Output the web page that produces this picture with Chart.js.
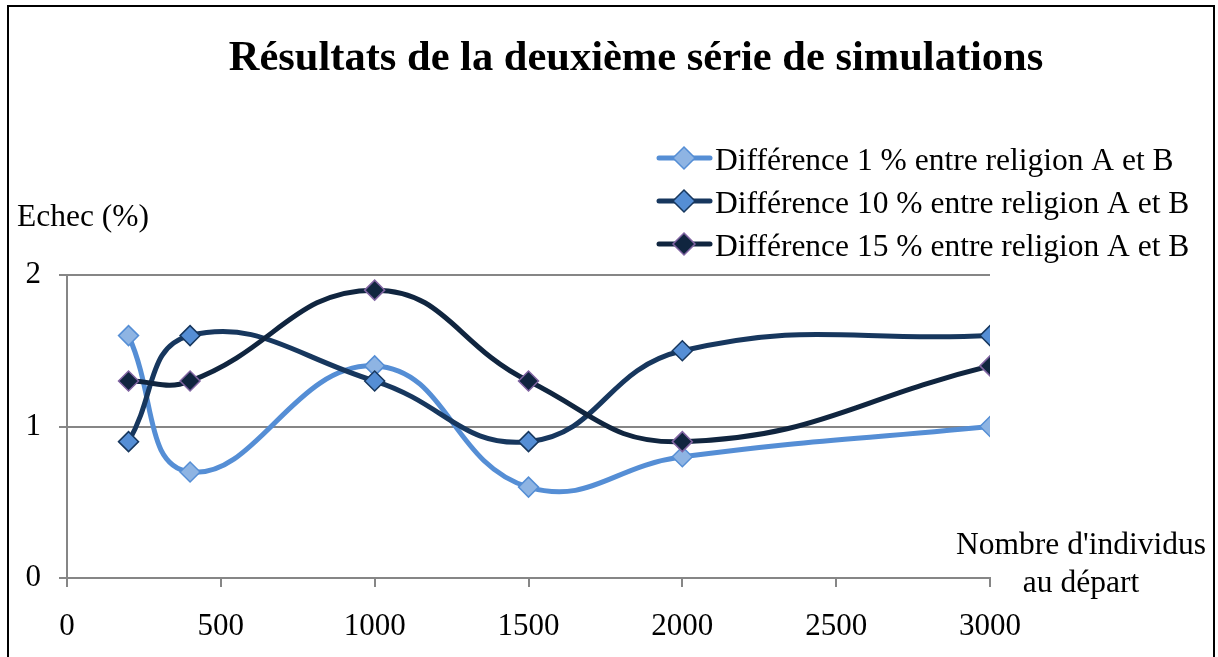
<!DOCTYPE html>
<html><head><meta charset="utf-8">
<script src="https://cdn.jsdelivr.net/npm/chart.js@4/dist/chart.umd.min.js"></script>
<style>html,body{margin:0;padding:0;background:#fff;}#wrap{width:1218px;height:657px;position:relative;}</style>
</head><body><div id="wrap"><canvas id="c" width="1218" height="657"></canvas></div>
<script>
const titleText = "Résultats de la deuxième série de simulations";
const yTitle = "Echec (%)";
const xTitle = ["Nombre d'individus", "au départ"];
const xValues = [200, 400, 1000, 1500, 2000, 3000];
const seriesNames = ["Différence 1 % entre religion A et B", "Différence 10 % entre religion A et B", "Différence 15 % entre religion A et B"];
const diff1 = [1.6, 0.7, 1.4, 0.6, 0.8, 1.0];
const diff10 = [0.9, 1.6, 1.3, 0.9, 1.5, 1.6];
const diff15 = [1.3, 1.3, 1.9, 1.3, 0.9, 1.4];

const FONT = "'Liberation Serif', 'Times New Roman', serif";
const lineColors = ['#558ED5', '#17375E', '#10253F'];
const fillColors = ['#8EB4E3', '#558ED5', '#10253F'];
const borderColors = ['#558ED5', '#17375E', '#8064A2'];
const allSeries = [diff1, diff10, diff15];

const datasets = allSeries.map((s, i) => ({
  label: seriesNames[i],
  data: xValues.map((x, j) => ({x: x, y: s[j]})),
  order: 3 - i,
  borderColor: lineColors[i],
  backgroundColor: fillColors[i],
  borderWidth: 5,
  pointStyle: 'rectRot',
  pointRadius: 10,
  pointHoverRadius: 10,
  pointBackgroundColor: fillColors[i],
  pointBorderColor: borderColors[i],
  pointBorderWidth: 1.5,
  tension: 0.45,
  fill: false
}));

const decor = {
  id: 'decor',
  afterDraw(chart) {
    const ctx = chart.ctx;
    ctx.save();
    ctx.strokeStyle = '#000';
    ctx.lineWidth = 2;
    ctx.strokeRect(8, 6, 1206, 720);
    ctx.fillStyle = '#000';
    ctx.textBaseline = 'alphabetic';
    ctx.textAlign = 'center';
    ctx.font = "bold 42.5px " + FONT;
    ctx.fillText(titleText, 636, 70);
    ctx.font = "31.5px " + FONT;
    ctx.textAlign = 'left';
    ctx.fillText(yTitle, 17, 226);
    ctx.textAlign = 'center';
    ctx.fillText(xTitle[0], 1081, 554);
    ctx.fillText(xTitle[1], 1081, 592);
    // legend
    const rows = [158, 201, 244];
    chart.data.datasets.forEach((ds, i) => {
      const y = rows[i];
      ctx.strokeStyle = ds.borderColor;
      ctx.lineWidth = 5;
      ctx.lineCap = 'round';
      ctx.beginPath(); ctx.moveTo(659, y); ctx.lineTo(710, y); ctx.stroke();
      const cx = 684, r = 11;
      ctx.beginPath();
      ctx.moveTo(cx, y - r); ctx.lineTo(cx + r, y); ctx.lineTo(cx, y + r); ctx.lineTo(cx - r, y); ctx.closePath();
      ctx.fillStyle = ds.pointBackgroundColor; ctx.fill();
      ctx.strokeStyle = ds.pointBorderColor; ctx.lineWidth = 1.5; ctx.stroke();
      ctx.fillStyle = '#000';
      ctx.textAlign = 'left';
      ctx.font = "31.5px " + FONT;
      ctx.fillText(ds.label, 715, y + 12);
    });
    ctx.restore();
  }
};

new Chart(document.getElementById('c'), {
  type: 'line',
  data: { datasets: datasets },
  options: {
    responsive: false,
    animation: false,
    events: [],
    layout: { padding: { left: 0, right: 228, top: 275, bottom: 0 } },
    plugins: { legend: { display: false }, title: { display: false }, tooltip: { enabled: false } },
    scales: {
      x: {
        type: 'linear', min: 0, max: 3000,
        ticks: { stepSize: 500, color: '#000', font: { family: FONT, size: 31 }, padding: 21, maxRotation: 0, callback: v => String(v) },
        grid: { drawOnChartArea: false, drawTicks: true, tickLength: 9, color: '#868686', lineWidth: 2 },
        border: { display: true, color: '#868686', width: 2 },
        afterFit(s) { s.height = 79; }
      },
      y: {
        min: 0, max: 2,
        ticks: { stepSize: 1, color: '#000', font: { family: FONT, size: 31 }, padding: 18, callback: v => String(v) },
        grid: { drawOnChartArea: true, drawTicks: true, tickLength: 8, color: '#868686', lineWidth: 2 },
        border: { display: true, color: '#868686', width: 2 },
        afterFit(s) { s.width = 67; }
      }
    }
  },
  plugins: [decor]
});
</script></body></html>
